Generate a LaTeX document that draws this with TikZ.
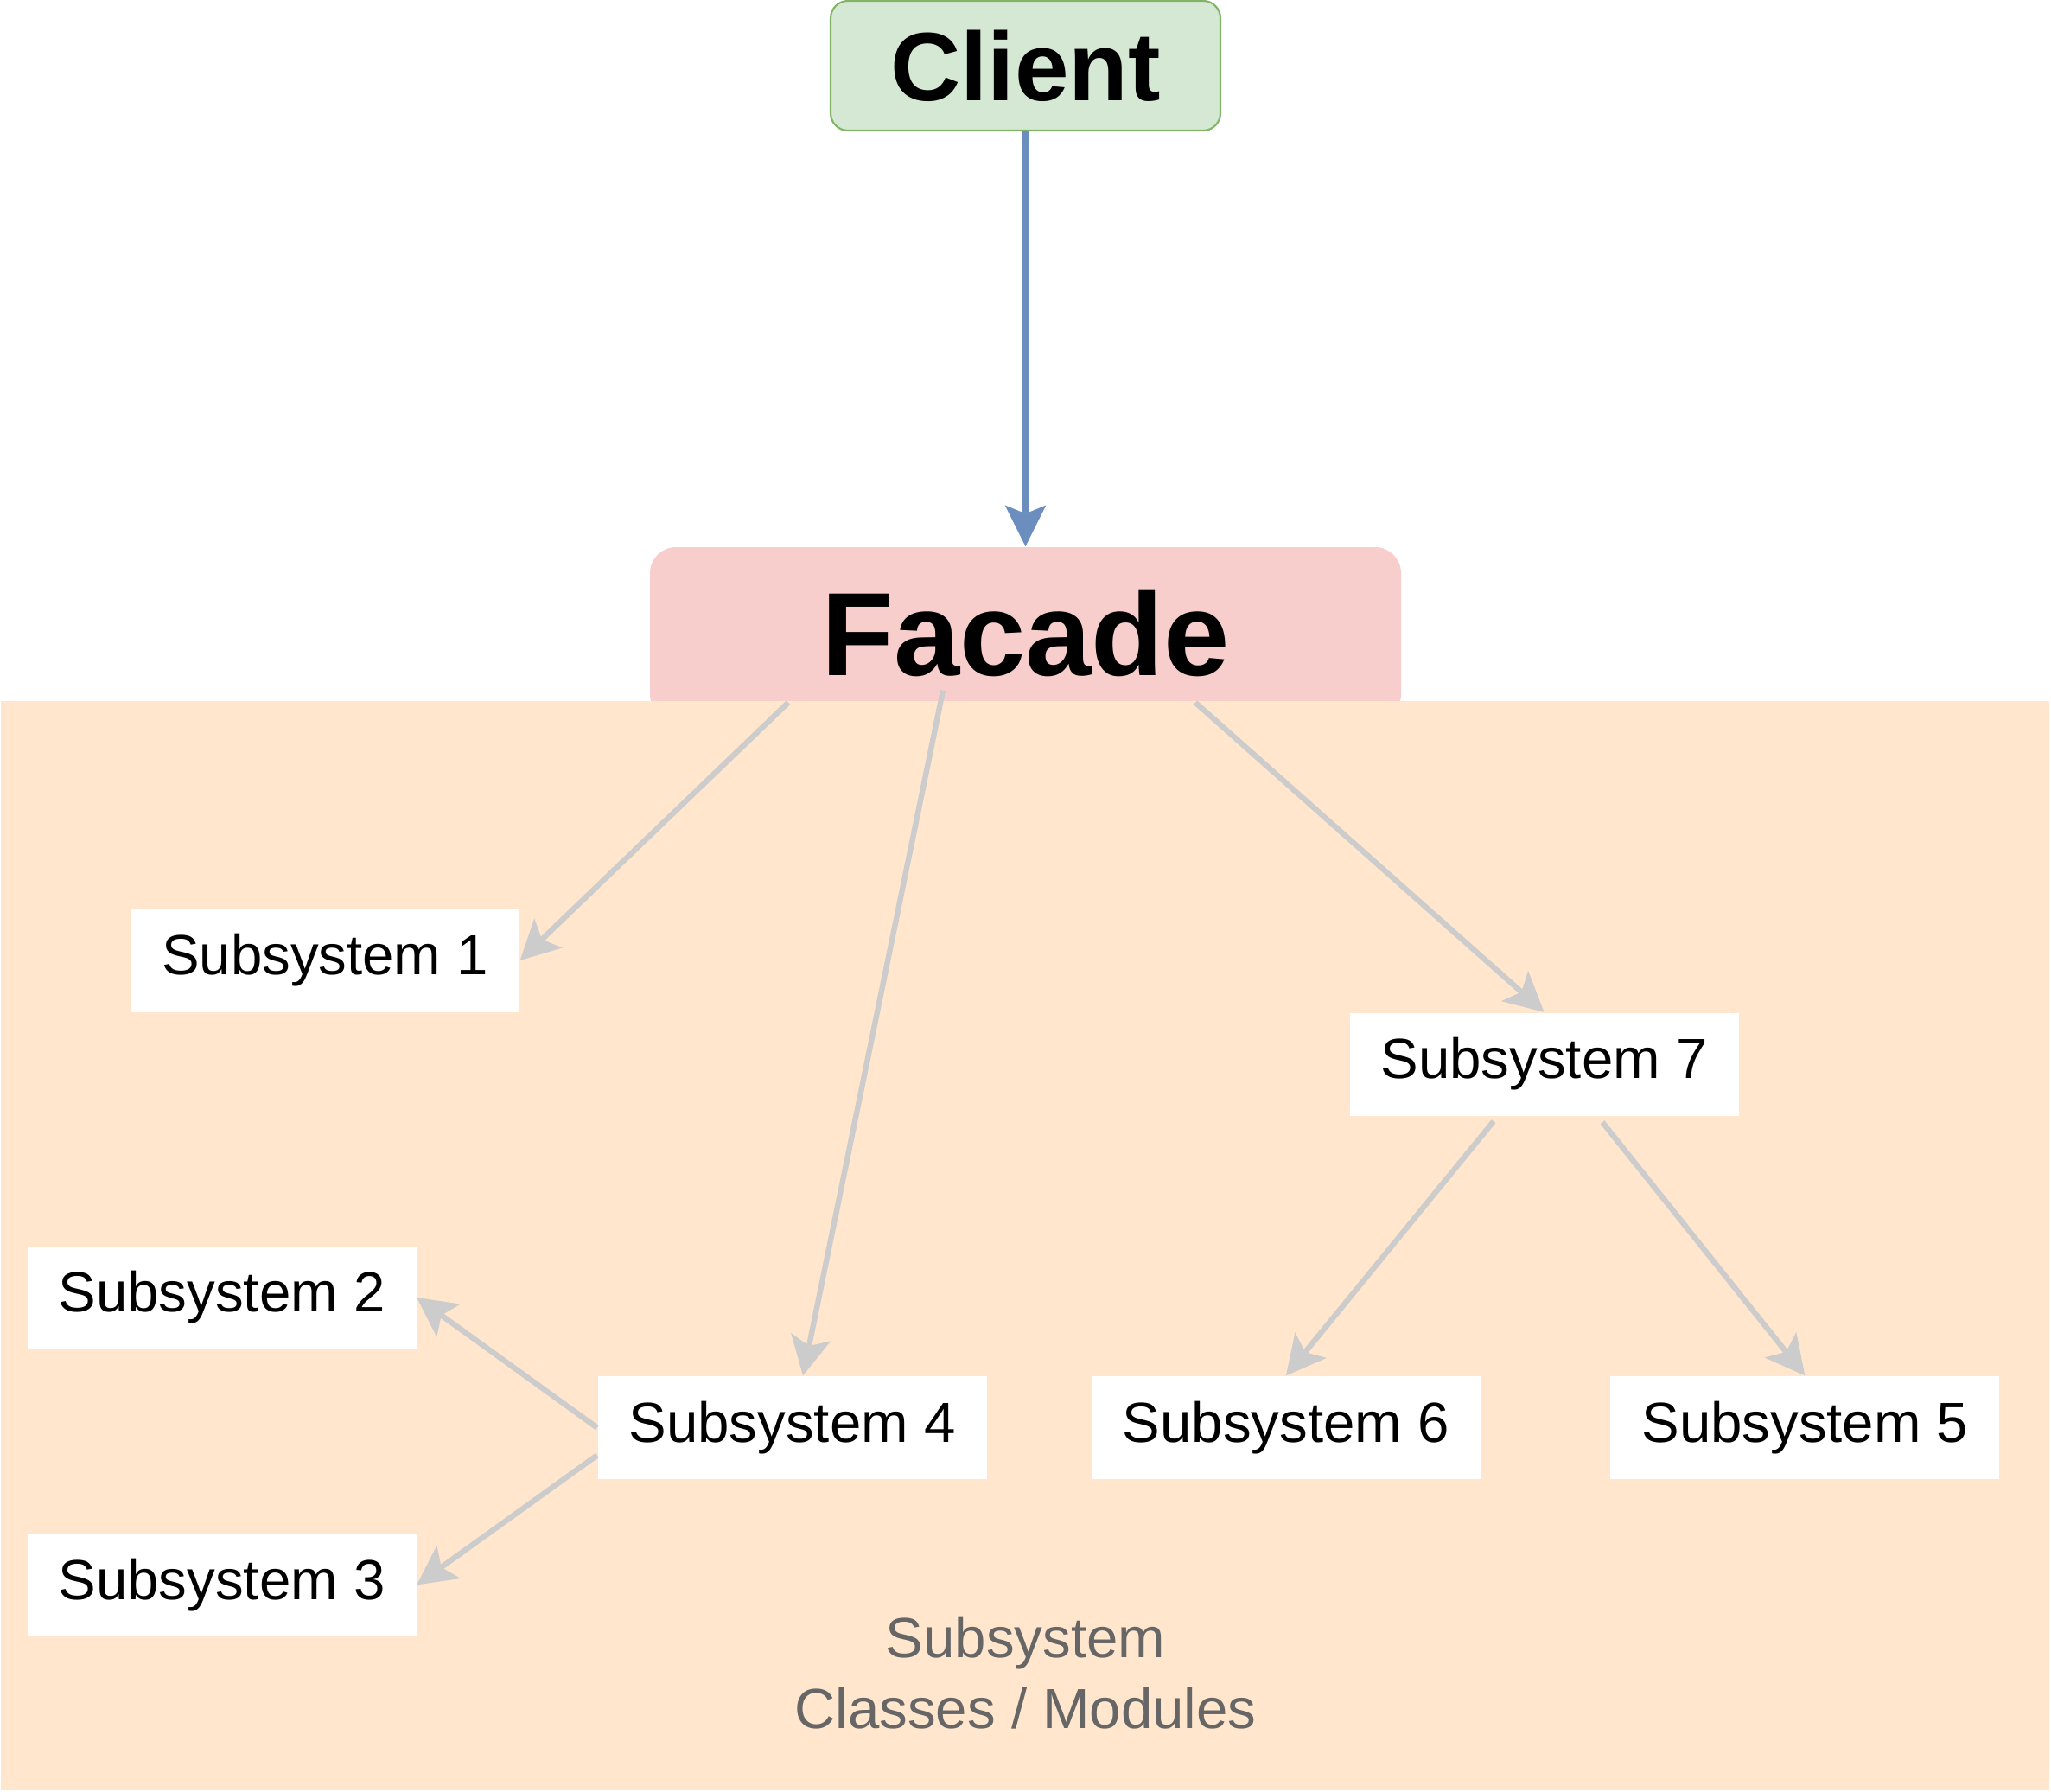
\documentclass[tikz,border=0pt]{standalone}
\usepackage{fontspec}
\setmainfont{Liberation Sans}
\usetikzlibrary{arrows.meta, positioning}
\definecolor{clientfill}{HTML}{D5E8D4}
\definecolor{clientline}{HTML}{82B366}
\definecolor{facadefill}{HTML}{F8CECC}
\definecolor{areafill}{HTML}{FFE6CC}
\definecolor{callblue}{HTML}{6C8EBF}
\definecolor{linkgray}{HTML}{CCCCCC}
\definecolor{notegray}{HTML}{666666}

\begin{document}
\begin{tikzpicture}[
    node distance=1.2cm,
    client/.style={rectangle, rounded corners=0.2cm, minimum width=4.51cm, minimum height=1.5cm, draw=clientline, line width=0.6pt, fill=clientfill, font=\fontsize{32}{38}\selectfont\bfseries},
    facade/.style={rectangle, rounded corners=0.3cm, minimum width=8.69cm, minimum height=2.0cm, fill=facadefill, font=\fontsize{39}{46}\selectfont\bfseries},
    subsys/.style={rectangle, minimum width=4.5cm, minimum height=1.19cm, inner sep=0pt, fill=white, font=\fontsize{18.6}{22}\selectfont},
    note/.style={align=center, text=notegray, font=\fontsize{18.6}{23.3}\selectfont},
    call/.style={-{Stealth[length=0.47cm, width=0.46cm, inset=0.09cm]}, draw=callblue, line width=2.5pt},
    link/.style={-{Stealth[length=0.45cm, width=0.46cm, inset=0.1cm]}, draw=linkgray, line width=1.8pt}
  ]
  \useasboundingbox (0,0) rectangle (23.73,-20.73);

  % Top: client and facade
  \node (client) [client] at (11.865,-0.76) {Client};
  \node (facade) [facade] at (11.865,-7.33) {Facade};

  % Subsystem area (covers the lower part of the facade)
  \fill [areafill] (0.01,-8.11) rectangle (23.71,-20.71);
  \node (note) [note, anchor=base] at (11.865,-19.99) {Subsystem\\Classes / Modules};

  % Subsystems
  \node (s1) [subsys] at (3.76,-11.11) {Subsystem 1};
  \node (s7) [subsys] at (17.865,-12.31) {Subsystem 7};
  \node (s2) [subsys] at (2.565,-15.01) {Subsystem 2};
  \node (s3) [subsys, below=2.12cm of s2] {Subsystem 3};
  \node (s4) [subsys] at (9.165,-16.515) {Subsystem 4};
  \node (s6) [subsys, right=of s4] {Subsystem 6};
  \node (s5) [subsys, right=1.49cm of s6] {Subsystem 5};

  % Arrows: client to facade
  \draw [call] (client) -- (facade);

  % Arrows: facade to subsystems
  \draw [link] ([shift={(-2.745,0.21)}]facade.south) -- (s1.east);
  \draw [link] ([shift={(-0.955,0.35)}]facade.south) -- ([xshift=0.125cm]s4.north);
  \draw [link] ([shift={(1.965,0.21)}]facade.south) -- (s7.north);

  % Arrows: between subsystems
  \draw [link] ([shift={(-0.585,-0.06)}]s7.south) -- (s6.north);
  \draw [link] ([shift={(0.675,-0.07)}]s7.south) -- (s5.north);
  \draw [link] (s4.west) -- (s2.east);
  \draw [link] ([yshift=-0.32cm]s4.west) -- (s3.east);
\end{tikzpicture}
\end{document}
